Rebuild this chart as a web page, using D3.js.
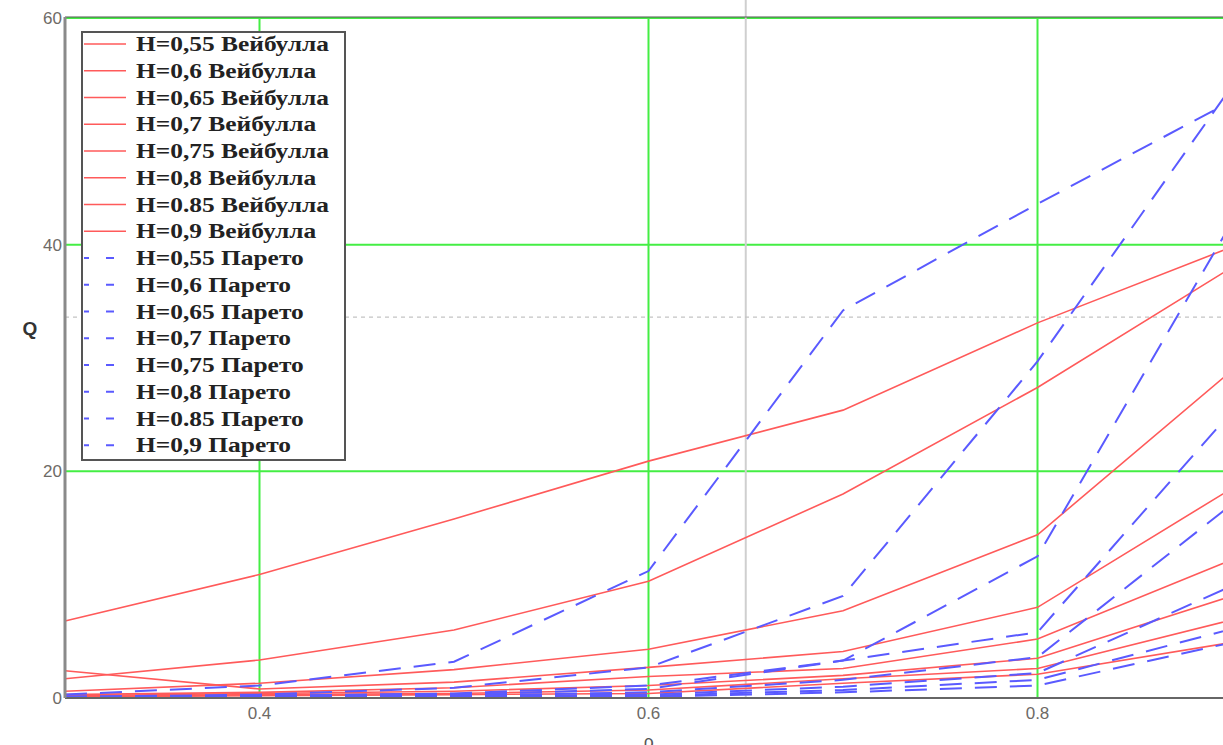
<!DOCTYPE html>
<html>
<head>
<meta charset="utf-8">
<script src="https://cdn.jsdelivr.net/npm/d3@7"></script>
<style>
  body { margin: 0; background: #fff; }
  svg { display: block; }
</style>
</head>
<body>
<svg width="1223" height="745"></svg>
<script>
// data
const rho = [0.3, 0.4, 0.5, 0.6, 0.7, 0.8, 0.9];
const hLabels = ["0,55", "0,6", "0,65", "0,7", "0,75", "0,8", "0.85", "0,9"];

const weibull = [
  [0.1, 0.2, 0.3, 0.4, 1.3, 2.1, 4.9],
  [0.1, 0.3, 0.4, 0.7, 1.7, 2.6, 6.9],
  [0.2, 0.4, 0.6, 1.1, 2.0, 3.5, 9.0],
  [0.3, 0.5, 0.9, 1.9, 2.6, 5.2, 12.2],
  [2.4, 0.8, 1.4, 2.7, 4.1, 8.0, 18.5],
  [0.6, 1.3, 2.5, 4.3, 7.7, 14.4, 28.9],
  [1.7, 3.35, 6.0, 10.3, 18.0, 27.4, 38.0],
  [6.8, 10.9, 15.8, 20.9, 25.4, 33.1, 39.8]
];

const pareto = [
  [0.01, 0.03, 0.05, 0.1, 0.5, 1.1, 4.9],
  [0.02, 0.05, 0.1, 0.2, 0.7, 1.6, 6.1],
  [0.05, 0.1, 0.15, 0.3, 1.0, 2.2, 9.9],
  [0.05, 0.1, 0.2, 0.5, 1.6, 3.6, 17.1],
  [0.1, 0.2, 0.3, 0.8, 3.3, 5.8, 25.3],
  [0.1, 0.2, 0.4, 1.1, 3.3, 12.5, 42.0],
  [0.1, 0.3, 0.9, 2.7, 9.0, 29.7, 54.0],
  [0.3, 1.1, 3.2, 11.2, 34.2, 43.6, 52.7]
];

const xTicks = [0.4, 0.6, 0.8];
const yTicks = [0, 20, 40, 60];
const markerRho = 0.65, markerQ = 33.6;

const svg = d3.select("svg");
const margin = {top: 18, left: 65, bottom: 47};
const height = 745 - margin.top - margin.bottom;

const x = d3.scaleLinear().domain([0.3, 0.9]).range([margin.left, 1232]);
const y = d3.scaleLinear().domain([0, 60]).range([margin.top + height, margin.top]);

const redC = "#ff5a5a", blueC = "#5a5aff", greenC = "#44ee44";

// green grid
svg.append("g").selectAll("line").data(yTicks.filter(d => d > 0)).join("line")
  .attr("x1", x(0.3)).attr("x2", 1223)
  .attr("y1", d => y(d)).attr("y2", d => y(d))
  .attr("stroke", greenC).attr("stroke-width", 2);
svg.append("g").selectAll("line").data(xTicks).join("line")
  .attr("x1", d => x(d)).attr("x2", d => x(d))
  .attr("y1", y(0)).attr("y2", y(60))
  .attr("stroke", greenC).attr("stroke-width", 2);

// grey trace markers
svg.append("line")
  .attr("x1", x(markerRho)).attr("x2", x(markerRho))
  .attr("y1", y(0)).attr("y2", 0)
  .attr("stroke", "#cfcfcf").attr("stroke-width", 2);
svg.append("line")
  .attr("x1", x(0.3)).attr("x2", 1223)
  .attr("y1", y(markerQ)).attr("y2", y(markerQ))
  .attr("stroke", "#c4c4c4").attr("stroke-width", 1.2).attr("stroke-dasharray", "4,4");

const line = d3.line().x((d, i) => x(rho[i])).y(d => y(d));

svg.append("g").selectAll("path").data(weibull).join("path")
  .attr("d", line)
  .attr("fill", "none").attr("stroke", redC).attr("stroke-width", 1.6);

svg.append("g").selectAll("path").data(pareto).join("path")
  .attr("d", line)
  .attr("fill", "none").attr("stroke", blueC).attr("stroke-width", 2)
  .attr("stroke-dasharray", "22,13");

// axes frame
svg.append("line").attr("x1", x(0.3)).attr("x2", 1223).attr("y1", y(60) - 1).attr("y2", y(60) - 1)
  .attr("stroke", "#555").attr("stroke-width", 1.2);
svg.append("line").attr("x1", x(0.3)).attr("x2", 1223).attr("y1", y(0)).attr("y2", y(0))
  .attr("stroke", "#666").attr("stroke-width", 2);
svg.append("line").attr("x1", x(0.3)).attr("x2", x(0.3)).attr("y1", y(0)).attr("y2", y(60) - 1)
  .attr("stroke", "#8a8a8a").attr("stroke-width", 3);

// tick labels
svg.append("g").selectAll("text").data(yTicks).join("text")
  .attr("x", x(0.3) - 3).attr("y", d => y(d) + 6)
  .attr("text-anchor", "end")
  .style("font", "17px 'Liberation Sans', Arial, sans-serif").style("fill", "#6e6a66")
  .text(d => d);
svg.append("g").selectAll("text").data(xTicks).join("text")
  .attr("x", d => x(d)).attr("y", y(0) + 21)
  .attr("text-anchor", "middle")
  .style("font", "17px 'Liberation Sans', Arial, sans-serif").style("fill", "#6e6a66")
  .text(d => d.toFixed(1));

svg.append("text").attr("x", 30).attr("y", 335).attr("text-anchor", "middle")
  .style("font", "bold 19px 'Liberation Sans', Arial, sans-serif").style("fill", "#333")
  .text("Q");
svg.append("text").attr("x", x(0.6)).attr("y", 748).attr("text-anchor", "middle")
  .style("font", "18px 'Liberation Sans', Arial, sans-serif").style("fill", "#555")
  .text("ρ");

// legend
const entries = hLabels.map(h => ({label: `H=${h} Вейбулла`, type: "w"}))
  .concat(hLabels.map(h => ({label: `H=${h} Парето`, type: "p"})));

const lg = svg.append("g");
lg.append("rect").attr("x", 82).attr("y", 32).attr("width", 263).attr("height", 428)
  .attr("fill", "#fff").attr("stroke", "#555").attr("stroke-width", 2);

const item = lg.selectAll("g.item").data(entries).join("g")
  .attr("class", "item")
  .attr("transform", (d, i) => `translate(0,${44 + i * 26.75})`);

item.append("line")
  .attr("x1", 84).attr("x2", 126).attr("y1", 0).attr("y2", 0)
  .attr("stroke", d => d.type === "w" ? redC : blueC)
  .attr("stroke-width", d => d.type === "w" ? 1.6 : 2)
  .attr("stroke-dasharray", d => d.type === "w" ? null : "5,17,8,100");

item.append("text")
  .attr("transform", "translate(136,7) scale(1.27,1)")
  .style("font", "bold 20px 'Liberation Serif', 'Times New Roman', serif")
  .style("fill", "#222")
  .text(d => d.label);
</script>
</body>
</html>
